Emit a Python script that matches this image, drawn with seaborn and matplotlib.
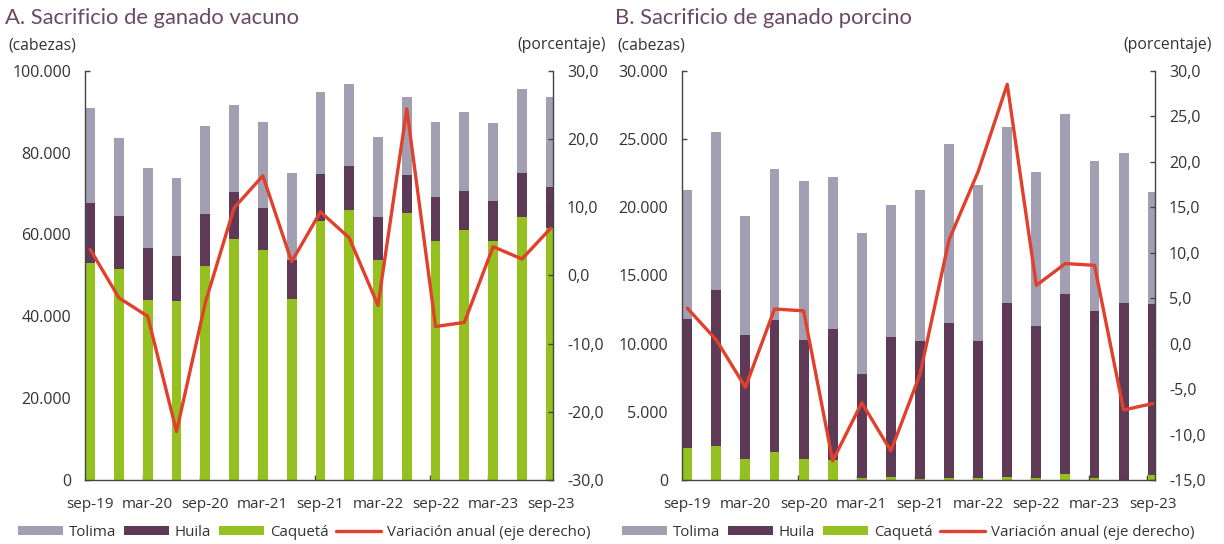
import numpy as np
import pandas as pd
import matplotlib
matplotlib.use("Agg")
import matplotlib.pyplot as plt
from matplotlib.ticker import FuncFormatter, FixedLocator
from matplotlib.patches import Patch
from matplotlib.lines import Line2D
import seaborn as sns

# ---------------- data ----------------
periods = ["sep-19", "dic-19", "mar-20", "jun-20", "sep-20", "dic-20", "mar-21", "jun-21",
           "sep-21", "dic-21", "mar-22", "jun-22", "sep-22", "dic-22", "mar-23", "jun-23", "sep-23"]
tick_labels = ["sep-19", "mar-20", "sep-20", "mar-21", "sep-21", "mar-22", "sep-22", "mar-23", "sep-23"]

# Panel A: cattle (heads)
vac_caqueta = [53000, 51500, 44000, 43700, 52400, 59000, 56100, 44300, 63300, 65900, 53800, 65300,
               58400, 61000, 58400, 64200, 61600]
vac_huila = [14600, 13000, 12800, 11000, 12700, 11300, 10400, 9500, 11500, 10700, 10400, 9200,
             10700, 9500, 9800, 10900, 10100]
vac_tolima = [23400, 19000, 19500, 19000, 21500, 21300, 21000, 21300, 19900, 20100, 19500, 19000,
              18400, 19300, 19100, 20400, 21800]
vac_var = [3.8, -3.3, -6.0, -22.9, -4.0, 9.9, 14.6, 2.0, 9.3, 5.5, -4.4, 24.4, -7.5, -6.9, 4.2, 2.4, 6.9]

# Panel B: pigs (heads)
por_caqueta = [2320, 2490, 1540, 2050, 1540, 1470, 170, 250, 80, 170, 170, 250, 170, 420, 170, 30, 340]
por_huila = [9480, 11410, 9060, 9650, 8720, 9630, 7630, 10250, 10120, 11330, 10030, 12750, 11130,
             13240, 12230, 12970, 12560]
por_tolima = [9460, 11600, 8750, 11100, 11680, 11090, 10330, 9640, 11060, 13100, 11400, 12900,
              11300, 13140, 11000, 11000, 8200]
por_var = [3.9, 0.4, -4.8, 3.8, 3.6, -12.9, -6.5, -11.8, -3.4, 11.4, 18.9, 28.5, 6.4, 8.8, 8.6, -7.3, -6.6]

# ---------------- style ----------------
C_TOL = "#a39fb3"
C_HUI = "#5e3a57"
C_CAQ = "#94c11f"
C_LINE = "#e0402c"
C_TITLE = "#6b4868"
C_TXT = "#333333"
C_AX = "#444444"

sns.set_style("white")
plt.rcParams["font.family"] = ["Open Sans", "DejaVu Sans"]
plt.rcParams["text.color"] = C_TXT

W, H = 1224, 544
fig = plt.figure(figsize=(W / 100, H / 100), dpi=100)


def fmt_thousands(v, pos):
    return f"{int(round(v)):,}".replace(",", ".")


def fmt_pct(v, pos):
    return f"{v:.1f}".replace(".", ",")


def panel(left_px, right_px, caq, hui, tol, var, ymax, ystep, rmin, rmax, rstep):
    ax = fig.add_axes([left_px / W, (H - 480) / H, (right_px - left_px) / W, 409.3 / H])
    df = pd.DataFrame({"periodo": periods, "caq": caq, "hui": hui, "tol": tol})
    df["c1"] = df["caq"]
    df["c2"] = df["caq"] + df["hui"]
    df["c3"] = df["c2"] + df["tol"]
    bw = 0.34
    sns.barplot(data=df, x="periodo", y="c3", order=periods, color=C_TOL, width=bw,
                ax=ax, saturation=1, linewidth=0)
    sns.barplot(data=df, x="periodo", y="c2", order=periods, color=C_HUI, width=bw,
                ax=ax, saturation=1, linewidth=0)
    sns.barplot(data=df, x="periodo", y="c1", order=periods, color=C_CAQ, width=bw,
                ax=ax, saturation=1, linewidth=0)
    ax.set_ylim(0, ymax)
    ax.set_yticks(np.arange(0, ymax + 1, ystep))
    ax.yaxis.set_major_formatter(FuncFormatter(fmt_thousands))
    ax.set_xlabel("")
    ax.set_ylabel("")

    ax2 = ax.twinx()
    sns.lineplot(x=np.arange(len(periods)), y=var, ax=ax2, color=C_LINE, linewidth=2.4)
    ax2.set_ylim(rmin, rmax)
    ax2.set_yticks(np.arange(rmin, rmax + 0.01, rstep))
    ax2.yaxis.set_major_formatter(FuncFormatter(fmt_pct))
    ax2.set_ylabel("")

    ax.set_xlim(-0.18, len(periods) - 0.92)
    ax2.set_xlim(-0.18, len(periods) - 0.92)
    ax.set_xticks(np.arange(0, len(periods), 2))
    ax.set_xticklabels(tick_labels)
    ax.xaxis.set_minor_locator(FixedLocator(np.arange(2, len(periods), 2) - 0.18))
    ax.tick_params(axis="x", which="major", length=0, pad=12, labelsize=11, colors=C_TXT)
    ax.tick_params(axis="x", which="minor", length=3.5, direction="in", width=1, color=C_AX,
                   bottom=True)
    ax.tick_params(axis="y", length=3.5, direction="in", width=1, pad=10, labelsize=11.5,
                   colors=C_TXT, left=True)
    ax.tick_params(axis="y", color=C_AX)
    ax2.tick_params(axis="y", length=3.5, direction="in", width=1, pad=10, labelsize=11.5,
                    colors=C_TXT, right=True)
    ax2.tick_params(axis="y", color=C_AX)
    for a in (ax, ax2):
        a.spines["top"].set_visible(False)
        for s in ("left", "right", "bottom"):
            a.spines[s].set_color(C_AX)
            a.spines[s].set_linewidth(1)
    ax.spines["right"].set_visible(False)
    ax2.spines["left"].set_visible(False)
    ax2.spines["bottom"].set_visible(False)
    ax.set_zorder(1)
    ax.patch.set_visible(False)
    ax2.set_zorder(2)
    return ax, ax2


panel(85, 553, vac_caqueta, vac_huila, vac_tolima, vac_var, 100000, 20000, -30, 30, 10)
panel(682, 1155, por_caqueta, por_huila, por_tolima, por_var, 30000, 5000, -15, 30, 5)

# titles and axis notes
tfam = ["Lato", "DejaVu Sans"]
fig.text(5 / W, 1 - 18 / H, "A. Sacrificio de ganado vacuno", fontsize=15.8, color=C_TITLE,
         va="center", ha="left", family=tfam)
fig.text(615 / W, 1 - 18 / H, "B. Sacrificio de ganado porcino", fontsize=15.8, color=C_TITLE,
         va="center", ha="left", family=tfam)
for x0, x1 in ((8, 606), (617, 1212)):
    fig.text(x0 / W, 1 - 45 / H, "(cabezas)", fontsize=11.3, ha="left", va="center", color=C_TXT)
    fig.text(x1 / W, 1 - 45 / H, "(porcentaje)", fontsize=11.3, ha="right", va="center", color=C_TXT)

# legends
handles = [Patch(facecolor=C_TOL, edgecolor="none"),
           Patch(facecolor=C_HUI, edgecolor="none"),
           Patch(facecolor=C_CAQ, edgecolor="none"),
           Line2D([0], [0], color=C_LINE, linewidth=2.4)]
names = ["Tolima", "Huila", "Caquetá", "Variación anual (eje derecho)"]
for x0 in (18, 622):
    fig.legend(handles, names, loc="center left", bbox_to_anchor=(x0 / W, 1 - 532 / H),
               ncol=4, frameon=False, fontsize=10.8, handlelength=3.0, handleheight=0.55,
               handletextpad=0.4, columnspacing=0.5, borderpad=0, borderaxespad=0)

fig.savefig("out.png", dpi=100, facecolor="white")
